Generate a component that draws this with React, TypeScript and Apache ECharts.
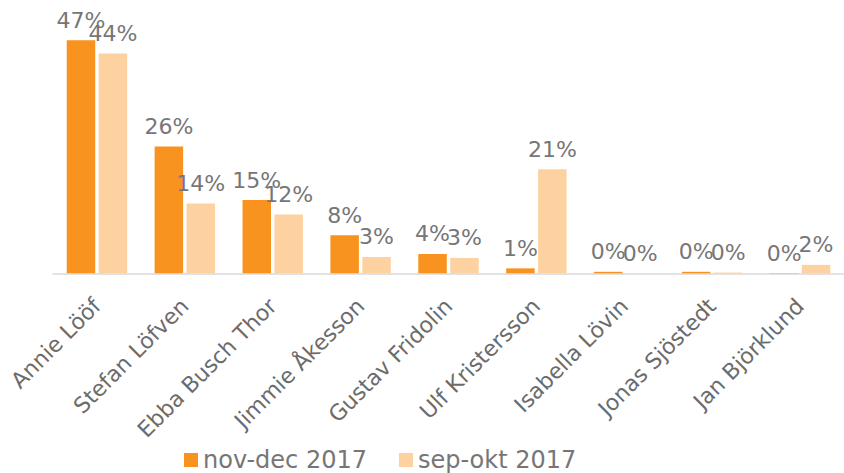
import React, { useEffect, useRef } from "react";
import * as echarts from "echarts";

const categories = [
  "Annie Lööf",
  "Stefan Löfven",
  "Ebba Busch Thor",
  "Jimmie Åkesson",
  "Gustav Fridolin",
  "Ulf Kristersson",
  "Isabella Lövin",
  "Jonas Sjöstedt",
  "Jan Björklund",
];
const seriesNames = ["nov-dec 2017", "sep-okt 2017"];
const novDec = [47.1, 25.6, 14.8, 7.7, 3.9, 1.0, 0.3, 0.3, 0.05];
const sepOkt = [44.4, 14.1, 11.9, 3.3, 3.1, 21.0, 0.0, 0.15, 1.7];

const FONT = "DejaVu Sans, Verdana, sans-serif";

export default function App() {
  const ref = useRef<HTMLDivElement>(null);
  useEffect(() => {
    if (!ref.current) return;
    const chart = echarts.init(ref.current, undefined, { renderer: "svg" });
    const label = {
      show: true,
      position: "top" as const,
      distance: 9,
      color: "#767676",
      fontSize: 22,
      fontFamily: FONT,
      formatter: (p: any) => Math.round(p.value) + "%",
    };
    chart.setOption({
      animation: false,
      backgroundColor: "#ffffff",
      textStyle: { fontFamily: FONT },
      grid: { left: 53, right: -4.6, top: 25.8, bottom: 199.7, containLabel: false },
      legend: {
        left: 179,
        top: 443,
        itemWidth: 14,
        itemHeight: 14,
        itemGap: 32,
        icon: "rect",
        textStyle: { color: "#767676", fontSize: 24, fontFamily: FONT },
        data: seriesNames,
      },
      xAxis: {
        type: "category",
        data: categories,
        axisLine: { show: true, lineStyle: { color: "#d9d9d9", width: 1.5 } },
        axisTick: { show: false },
        axisLabel: {
          rotate: 45,
          interval: 0,
          margin: 29,
          color: "#6b6b6b",
          fontSize: 22,
          fontFamily: FONT,
        },
      },
      yAxis: {
        type: "value",
        min: 0,
        max: 50,
        show: false,
        splitLine: { show: false },
      },
      series: [
        {
          name: seriesNames[0],
          type: "bar",
          data: novDec,
          barWidth: 28.5,
          barGap: "12%",
          itemStyle: { color: "#F7931E" },
          label,
        },
        {
          name: seriesNames[1],
          type: "bar",
          data: sepOkt,
          barWidth: 28.5,
          barGap: "12%",
          itemStyle: { color: "#FDD2A0" },
          label,
        },
      ],
    });
    return () => chart.dispose();
  }, []);
  return (
    <div
      ref={ref}
      style={{ position: "fixed", left: 0, top: 0, width: 844, height: 473 }}
    />
  );
}
